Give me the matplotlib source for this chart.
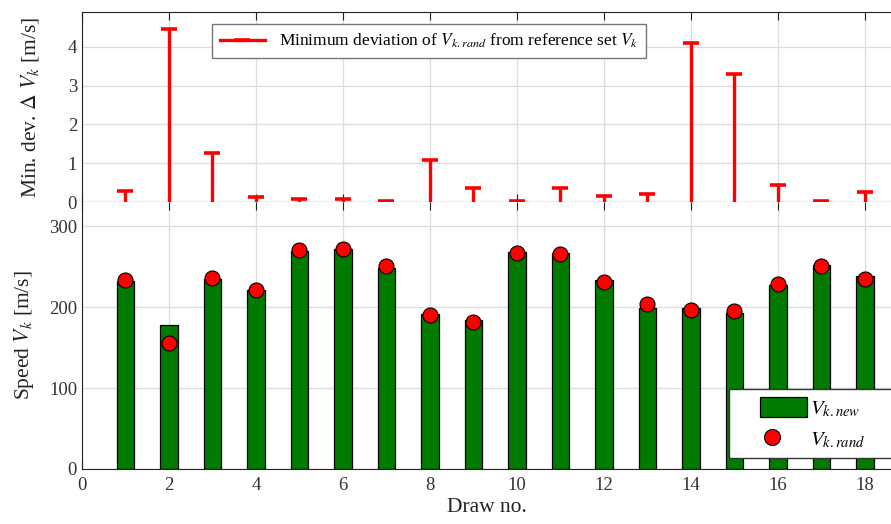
import numpy as np
import matplotlib
matplotlib.use("Agg")
import matplotlib.pyplot as plt
from matplotlib.lines import Line2D
from matplotlib.patches import Patch, Rectangle
from matplotlib.legend_handler import HandlerPatch, HandlerLine2D

plt.rcParams['font.family'] = ['Liberation Serif', 'DejaVu Serif']
plt.rcParams['mathtext.fontset'] = 'stix'

draws = np.arange(1, 19)
min_dev = [0.28, 4.45, 1.26, 0.12, 0.09, 0.07, 0.03, 1.08, 0.35,
           0.02, 0.35, 0.15, 0.20, 4.09, 3.29, 0.44, 0.03, 0.26]
v_new = [232, 178, 235, 221, 270, 272, 249, 192, 184,
         268, 267, 233, 199, 199, 193, 227, 252, 238]
v_rand = [233.5, 155.5, 235.5, 221.5, 270.5, 271.5, 250.5, 190.5, 182,
          267.5, 265.5, 231, 204, 196.5, 195.5, 228.5, 250.5, 234.5]

GREEN = '#007a00'
fig = plt.figure(figsize=(8.91, 5.24), dpi=100)
L, R = 0.092, 1.0
ax1 = fig.add_axes([L, 0.6145, R - L, 0.977 - 0.6145])
ax2 = fig.add_axes([L, 0.105, R - L, 0.6145 - 0.105])

grid_kw = dict(color='#dcdcdc', linewidth=0.9)
tick_col = '#222222'
lab_col = '#333333'

# Top: min deviation stems
ax1.vlines(draws, 0, min_dev, color='red', linewidth=2.4, zorder=3)
ax1.plot(draws, min_dev, linestyle='none', marker='_', markersize=12,
         markeredgewidth=2.6, color='red', zorder=3)
ax1.set_xlim(0, 18.6)
ax1.set_ylim(0, 4.9)
ax1.set_xticks(np.arange(0, 19, 2))
ax1.set_yticks(np.arange(0, 5, 1))
ax1.tick_params(axis='x', labelbottom=False, top=True, direction='in', length=6, color=tick_col)
ax1.tick_params(axis='y', direction='in', length=0, labelsize=13.5, labelcolor=lab_col)
ax1.grid(True, **grid_kw)
ax1.set_axisbelow(True)
ax1.spines['right'].set_visible(False)
for s in ['top', 'bottom', 'left']:
    ax1.spines[s].set_color(tick_col)
ax1.set_ylabel(r'Min. dev. $\Delta$ $V_k$ [m/s]', fontsize=15.5, labelpad=19, color='#222222')
h1 = Line2D([], [], color='red', linewidth=2.4, marker='_', markersize=12,
            markeredgewidth=2.6)
ax1.legend([h1], [r'Minimum deviation of $V_{k.rand}$ from reference set $V_k$'],
           loc='upper left', bbox_to_anchor=(0.1607, 0.937), borderaxespad=0,
           fontsize=12.5, fancybox=False, edgecolor='#777777', framealpha=1,
           borderpad=0.45, handlelength=2.6)

# Bottom: speeds
ax2.bar(draws, v_new, width=0.4, color=GREEN, edgecolor='black',
        linewidth=0.9, zorder=2)
ax2.plot(draws, v_rand, linestyle='none', marker='o', markersize=10.8,
         markerfacecolor='red', markeredgecolor='black', markeredgewidth=0.8,
         zorder=3)
ax2.set_xlim(0, 18.6)
ax2.set_ylim(0, 330)
ax2.set_xticks(np.arange(0, 19, 2))
ax2.set_yticks([0, 100, 200, 300])
ax2.tick_params(axis='x', top=True, direction='in', length=6, labelsize=13.5,
                color=tick_col, pad=6, labelcolor=lab_col)
ax2.tick_params(axis='y', direction='in', length=0, labelsize=13.5, labelcolor=lab_col)
ax2.grid(True, **grid_kw)
ax2.set_axisbelow(True)
ax2.spines['right'].set_visible(False)
ax2.spines['top'].set_visible(False)
for s in ['bottom', 'left']:
    ax2.spines[s].set_color(tick_col)
ax2.set_ylabel(r'Speed $V_k$ [m/s]', fontsize=15.5, labelpad=9.5, color='#222222')
ax2.set_xlabel('Draw no.', fontsize=15.5, color='#222222', labelpad=3)

# Legend with handles shifted right inside a wider frame
OFF = 17.3  # points


class ShiftedPatch(HandlerPatch):
    def _create_patch(self, legend, orig_handle, xdescent, ydescent,
                      width, height, fontsize):
        return Rectangle(xy=(-xdescent + OFF, -ydescent),
                         width=width - OFF, height=height)


class ShiftedMarker(HandlerLine2D):
    def get_xdata(self, legend, xdescent, ydescent, width, height, fontsize):
        xdata, _ = super().get_xdata(legend, xdescent, ydescent, width, height, fontsize)
        return xdata, np.array([OFF + (width - OFF) / 2 - xdescent])


p_new = Patch(facecolor=GREEN, edgecolor='black', linewidth=0.9)
p_rand = Line2D([], [], linestyle='none', marker='o', markersize=11.5,
                markerfacecolor='red', markeredgecolor='black', markeredgewidth=0.8)
ax2.legend([p_new, p_rand], [r'$V_{k.new}$', r'$V_{k.rand}$'],
           handler_map={p_new: ShiftedPatch(), p_rand: ShiftedMarker()},
           loc='lower left', bbox_to_anchor=(0.7998, 0.0412, 0.22, 0.0),
           mode='expand', borderaxespad=0, fontsize=15, fancybox=False,
           edgecolor='#333333', framealpha=1, handlelength=3.41,
           handleheight=1.15, labelspacing=0.45, borderpad=0.35,
           handletextpad=0.15)

fig.savefig('out.png', dpi=100)
